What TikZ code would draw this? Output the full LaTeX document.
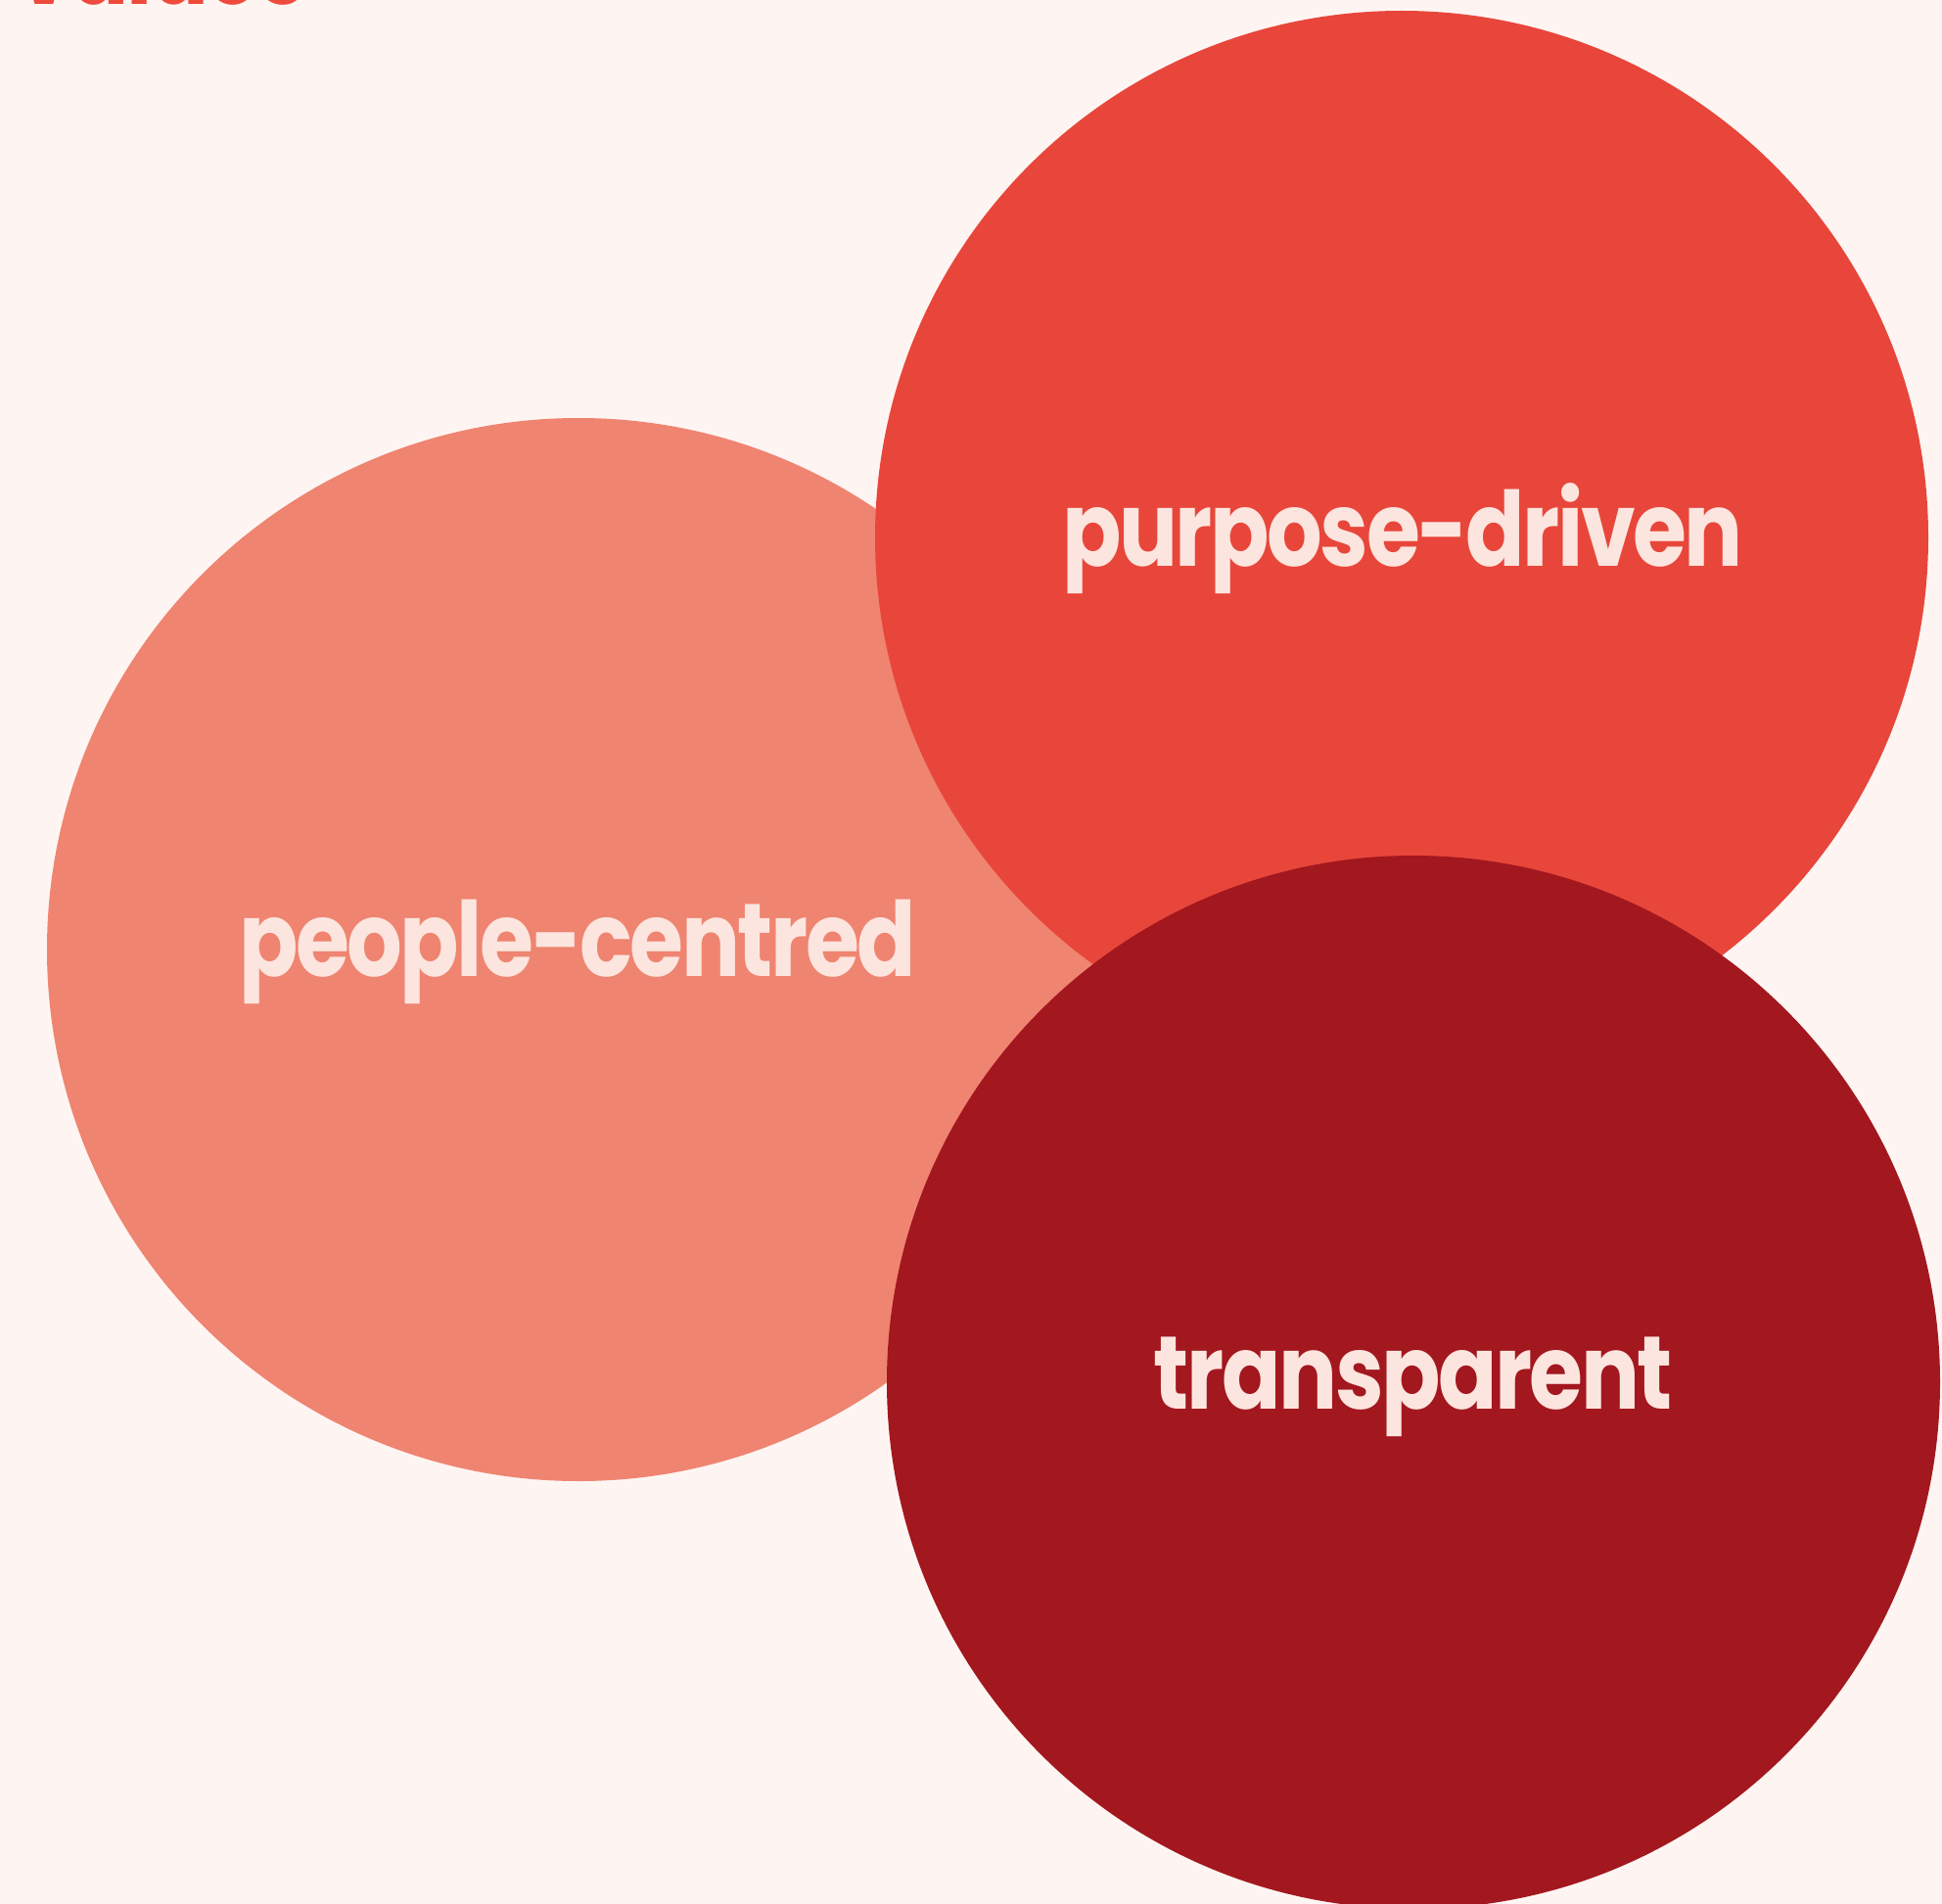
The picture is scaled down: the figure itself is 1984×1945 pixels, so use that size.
\documentclass[tikz,border=0pt]{standalone}
\usepackage{fontspec}
\setmainfont{Poppins}[UprightFont=* SemiBold, BoldFont=* Bold, FakeStretch=0.84, LetterSpace=-2.3]
\definecolor{bgc}{HTML}{FEF5F2}
\definecolor{salmon}{HTML}{EF8471}
\definecolor{redc}{HTML}{E8463B}
\definecolor{darkc}{HTML}{A3171F}
\definecolor{txtc}{HTML}{FCE5DE}
\definecolor{titlec}{HTML}{EE4B3C}
\begin{document}
\begin{tikzpicture}[x=1pt,y=-1pt,
  disc/.style={circle,inner sep=0pt,minimum size=#1},
  lbl/.style={text=txtc,font=\fontsize{106}{106}\selectfont\bfseries,anchor=base,inner sep=0pt}]
\useasboundingbox (0,0) rectangle (1984,1945);
\fill[bgc] (0,0) rectangle (1984,1945);
\clip (0,0) rectangle (1984,1945);
\node[disc=1086pt,fill=salmon] (pc) at (591,970) {};
\node[disc=1076pt,fill=redc] (pd) at (1432,549) {};
\node[disc=1076pt,fill=darkc] (tr) at (1444,1412) {};
\node[lbl] (tpc) at (590,997) {people-centred};
\node[lbl] (tpd) at (1433,578) {purpose-driven};
\node[lbl] (ttr) at (1444,1439) {transparent};
\node[text=titlec,font=\fontsize{106}{106}\selectfont\bfseries,anchor=base east,inner sep=0pt] (title) at (313,5) {core values};
\end{tikzpicture}
\end{document}
